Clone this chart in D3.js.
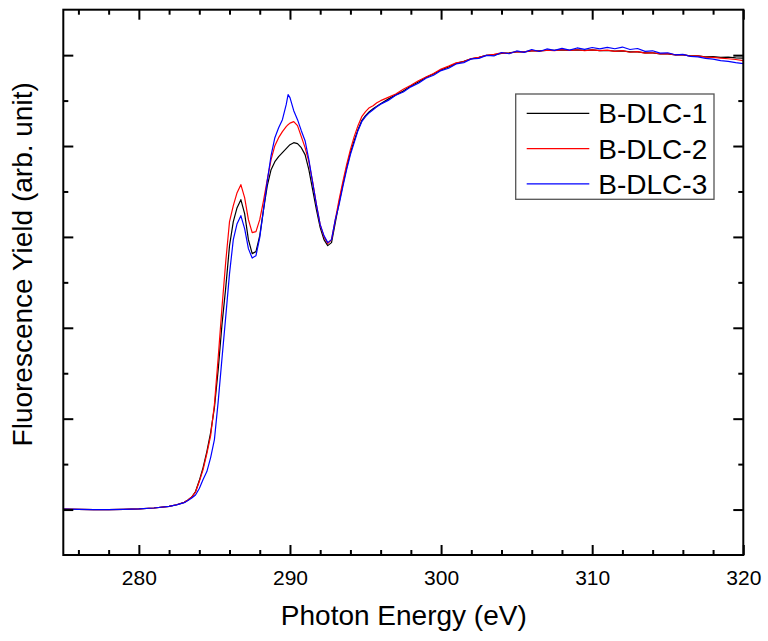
<!DOCTYPE html>
<html>
<head>
<meta charset="utf-8">
<script src="https://d3js.org/d3.v7.min.js"></script>
<style>
  html, body { margin: 0; padding: 0; background: #fff; }
  svg { display: block; font-family: "Liberation Sans", Arial, sans-serif; }
</style>
</head>
<body>
<svg id="chart" width="768" height="641"></svg>
<script>
// ---------- DATA ----------
const seriesNames = ["B-DLC-1", "B-DLC-2", "B-DLC-3"];
const seriesColors = ["#000000", "#ff0000", "#0000ff"];

const energy = [
  275, 276, 277, 278, 279, 280, 281, 282, 282.5, 283,
  283.25, 283.5, 283.75, 284, 284.25, 284.5, 284.75, 285, 285.25, 285.5,
  285.75, 286, 286.25, 286.5, 286.75, 287, 287.25, 287.5, 287.75, 288,
  288.25, 288.5, 288.75, 289, 289.25, 289.5, 289.75, 289.875, 290, 290.25,
  290.5, 290.75, 291, 291.25, 291.5, 291.75, 292, 292.25, 292.5, 292.75,
  293, 293.25, 293.5, 293.75, 294, 294.25, 294.5, 294.75, 295, 295.25,
  295.5, 295.75, 296,
  296.5, 297, 297.5, 298, 298.5, 299, 299.5, 300, 300.5, 301,
  301.5, 302, 302.5, 303, 303.5, 304, 304.5, 305, 305.5, 306,
  306.5, 307, 307.5, 308, 308.5, 309, 309.5, 310, 310.5, 311,
  311.5, 312, 312.5, 313, 313.5, 314, 314.5, 315, 315.5, 316,
  316.5, 317, 317.5, 318, 318.5, 319, 319.5, 320
];

const dlc1 = [
  0.5, 0.3, 0, 0, 0.2, 0.7, 1.7, 3.5, 5.3, 7.9,
  10.5, 13.8, 19.8, 31.9, 46.2, 63.8, 84.7, 112.2, 154, 203.5,
  244.2, 290.4, 316.8, 332.2, 341, 325.6, 297, 281.6, 283.8, 301.4,
  330, 356.4, 374, 382.8, 388.3, 392.7, 397.1, 399.3, 401.5, 403.7,
  402.6, 398.2, 390.5, 374, 352, 330, 310.2, 297, 290.4, 293.7,
  315.7, 337.7, 357.5, 376.2, 392.7, 405.9, 418, 427.9, 433.4, 437.8,
  441.1, 443.9, 446.6,
  451.6, 456.3, 460.6, 466.1, 470.5, 475.5, 479.3, 483.8, 487.0, 490.9,
  493.1, 495.9, 497.5, 499.7, 500.2, 501.9, 502.4, 503.6, 503.5, 504.7,
  504.6, 505.2, 505.2, 505.8, 505.3, 505.7, 505.3, 505.7, 504.9, 505.1,
  504.5, 504.6, 503.6, 503.5, 502.5, 502.4, 501.4, 501.3, 500.3, 500.2,
  499.2, 499.1, 498.1, 498.4, 497.6, 497.9, 497.0, 496.7
];

const dlc2 = [
  0.5, 0.3, 0, 0, 0.2, 0.7, 1.7, 3.5, 5.3, 7.9,
  10.5, 13.8, 19.3, 30.8, 44, 61.6, 81.4, 115.5, 167.2, 222.2,
  272.8, 316.8, 334.4, 348.7, 357.5, 343.2, 319, 304.7, 305.8, 319,
  339.9, 363, 385, 400.4, 409.2, 415.8, 421.3, 423.5, 425.2, 426.8,
  422.4, 410.3, 398.2, 382.8, 360.8, 335.5, 313.5, 300.3, 292.6, 297,
  319, 341, 360.8, 379.5, 396, 410.3, 422.4, 432.3, 437.8, 442.2,
  444.4, 447.7, 449.9,
  453.5, 457.2, 462.5, 466.8, 471.9, 476.0, 479.8, 484.6, 487.9, 491.5,
  493.0, 496.3, 497.5, 499.9, 500.8, 502.4, 502.1, 503.9, 503.5, 505.0,
  504.3, 505.6, 505.0, 506.1, 505.1, 505.9, 504.8, 505.8, 505.0, 505.6,
  504.1, 504.9, 503.2, 503.8, 502.3, 502.6, 501.4, 501.6, 500.2, 500.5,
  499.0, 499.3, 497.9, 497.5, 496.8, 496.0, 495.2, 493.9
];

const dlc3 = [
  0.5, 0.3, 0, 0, 0.2, 0.7, 1.7, 3.5, 5.1, 7.6,
  9.9, 12.7, 16.0, 23.1, 33, 41.8, 57.2, 77, 118.8, 166.1,
  212.3, 259.6, 297, 314.6, 323.4, 309.1, 287.1, 276.7, 279.4, 299.2,
  330, 361.9, 389.4, 409.2, 420.2, 429, 445.5, 456.5, 453.2, 438.9,
  429, 416.9, 405.9, 385, 359.7, 335.5, 313.5, 301.4, 293.7, 297,
  319, 335.5, 355.3, 374, 390.5, 403.7, 416.9, 426.8, 432.3, 436.7,
  440, 443.3, 446.1,
  450.2, 455.8, 459.4, 465.1, 469.0, 474.6, 477.9, 483.0, 485.6, 490.3,
  491.8, 495.9, 496.4, 499.8, 499.1, 502.9, 501.5, 504.6, 503.0, 506.2,
  504.0, 506.8, 505.2, 507.4, 505.6, 507.9, 506.3, 508.4, 506.9, 508.6,
  507.0, 508.9, 506.2, 507.3, 504.1, 504.8, 502.2, 502.6, 500.4, 500.9,
  498.6, 498.0, 496.4, 495.7, 494.0, 493.2, 491.8, 490.6
];

const xMajorTicks = [280, 290, 300, 310, 320];
const xMinorTicks = [276, 278, 282, 284, 286, 288, 292, 294, 296, 298, 302, 304, 306, 308, 312, 314, 316, 318];
const yMajorTicks = [0, 100, 200, 300, 400, 500];
const yMinorTicks = [50, 150, 250, 350, 450];

const xTitle = "Photon Energy (eV)";
const yTitle = "Fluorescence Yield (arb. unit)";

// ---------- LAYOUT ----------
const plotL = 63.3, plotR = 743.3, plotT = 9.7, plotB = 555;
const svg = d3.select("#chart");

const x = d3.scaleLinear().domain([275, 320]).range([plotL, plotR]);
const y = d3.scaleLinear().domain([-50, 550]).range([plotB, plotT]);

// clip
svg.append("defs").append("clipPath").attr("id", "clip")
  .append("rect").attr("x", plotL).attr("y", plotT)
  .attr("width", plotR - plotL).attr("height", plotB - plotT);

// curves
const series = [dlc1, dlc2, dlc3];
const line = d3.line().x((d, i) => x(energy[i])).y(d => y(d));
const curves = svg.append("g").attr("clip-path", "url(#clip)");
series.forEach((s, k) => {
  curves.append("path")
    .datum(s)
    .attr("fill", "none")
    .attr("stroke", seriesColors[k])
    .attr("stroke-width", 1.2)
    .attr("stroke-linejoin", "round")
    .attr("d", line);
});

// axes
function styleAxis(g) {
  g.select(".domain").remove();
  g.selectAll(".tick line").attr("stroke", "#000").attr("stroke-width", 2);
}
const tickFont = 21;

svg.append("g").attr("transform", `translate(0,${plotB})`)
  .call(d3.axisBottom(x).tickValues(xMajorTicks).tickSize(-10).tickPadding(15).tickFormat(d3.format("d")))
  .call(styleAxis)
  .call(g => g.selectAll("text").attr("font-size", tickFont).attr("fill", "#000")
    .attr("font-family", "'Liberation Sans', Arial, sans-serif"));
svg.append("g").attr("transform", `translate(0,${plotB})`)
  .call(d3.axisBottom(x).tickValues(xMinorTicks).tickSize(-5).tickFormat(""))
  .call(styleAxis);
svg.append("g").attr("transform", `translate(0,${plotT})`)
  .call(d3.axisTop(x).tickValues(xMajorTicks).tickSize(-10).tickFormat(""))
  .call(styleAxis);
svg.append("g").attr("transform", `translate(0,${plotT})`)
  .call(d3.axisTop(x).tickValues(xMinorTicks).tickSize(-5).tickFormat(""))
  .call(styleAxis);
svg.append("g").attr("transform", `translate(${plotL},0)`)
  .call(d3.axisLeft(y).tickValues(yMajorTicks).tickSize(-10).tickFormat(""))
  .call(styleAxis);
svg.append("g").attr("transform", `translate(${plotL},0)`)
  .call(d3.axisLeft(y).tickValues(yMinorTicks).tickSize(-5).tickFormat(""))
  .call(styleAxis);
svg.append("g").attr("transform", `translate(${plotR},0)`)
  .call(d3.axisRight(y).tickValues(yMajorTicks).tickSize(-10).tickFormat(""))
  .call(styleAxis);
svg.append("g").attr("transform", `translate(${plotR},0)`)
  .call(d3.axisRight(y).tickValues(yMinorTicks).tickSize(-5).tickFormat(""))
  .call(styleAxis);

// frame
svg.append("rect")
  .attr("x", plotL).attr("y", plotT)
  .attr("width", plotR - plotL).attr("height", plotB - plotT)
  .attr("fill", "none").attr("stroke", "#000").attr("stroke-width", 2);

// titles
svg.append("text")
  .attr("x", (plotL + plotR) / 2 + 0.5).attr("y", 625)
  .attr("text-anchor", "middle").attr("font-size", 28).attr("fill", "#000")
  .text(xTitle);
svg.append("text")
  .attr("transform", `translate(32,${(plotT + plotB) / 2 - 18}) rotate(-90)`)
  .attr("text-anchor", "middle").attr("font-size", 28).attr("fill", "#000")
  .text(yTitle);

// legend
const lg = svg.append("g");
lg.append("rect")
  .attr("x", 515.7).attr("y", 94).attr("width", 198.3).attr("height", 105.3)
  .attr("fill", "#fff").attr("stroke", "#555").attr("stroke-width", 1.3);
seriesNames.forEach((name, k) => {
  const yy = 113.3 + k * 35.3;
  lg.append("line").attr("x1", 526.7).attr("x2", 589.3).attr("y1", yy).attr("y2", yy)
    .attr("stroke", seriesColors[k]).attr("stroke-width", 1.2);
  lg.append("text").attr("x", 598.3).attr("y", yy + 10).attr("font-size", 28)
    .attr("fill", "#000").text(name);
});
</script>
</body>
</html>
